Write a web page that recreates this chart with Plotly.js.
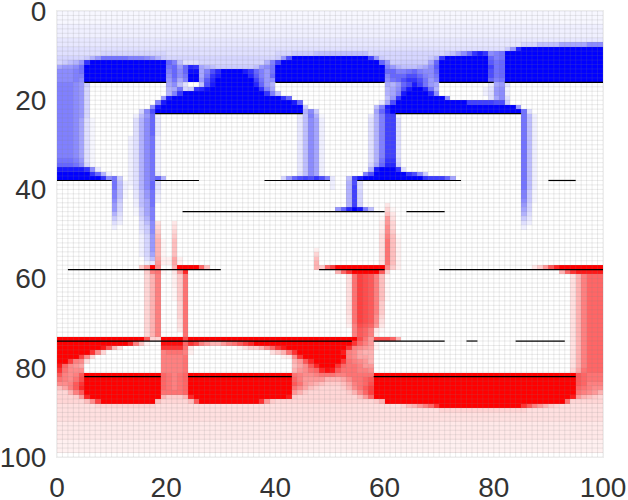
<!DOCTYPE html>
<html>
<head>
<meta charset="utf-8">
<script src="https://cdn.plot.ly/plotly-3.0.1.min.js"></script>
<style>html,body{margin:0;padding:0;background:#fff}</style>
</head>
<body>
<div id="plot" style="width:628px;height:500px"></div>
<script>
const tickValues = [0, 20, 40, 60, 80, 100];

// strength of each level letter: lower case is blue, upper case is red
const levels = [0.03, 0.06, 0.09, 0.12, 0.16, 0.2, 0.25, 0.3, 0.35, 0.4, 0.45, 0.5, 0.55, 0.6, 0.65, 0.7, 0.75, 0.8, 0.85, 0.9, 0.95, 1];

// one string per row, runs of "first-last level", the rest is zero
const rows = [
"0-99a",
"0-99a",
"0-99a",
"0-99b",
"0-99b",
"0-99b",
"0-99c",
"0-84c 85-87e 88-91g 92-96i 97-99k",
"0-81d 82f 83j 84s 85-99v",
"0-7d 8-19e 20-39d 40-42e 43-46f 47-56g 57-70e 71f 72g 73i 74k 75n 76r 77t 78r 79k 80l 81m 82-99v",
"0-4e 5f 6h 7j 8-12m 13-15l 16k 17j 18h 19f 20-39e 40f 41j 42p 43-56v 57q 58j 59f 60-67e 68f 69h 70r 71-78v 79n 80l 81m 82-99v",
"0e 1f 2g 3h 4j 5r 6-19v 20n 21l 22g 23-25d 26-37e 38h 39l 40q 41-58v 59n 60j 61-67f 68i 69n 70-78v 79o 80m 81n 82-99v",
"0i 1-2j 3k 4m 5-19v 20m 21n 22j 23n 24s 25r 26i 27h 28g 29-35f 36g 37j 38k 39m 40-59v 60l 61j 62h 63-65g 66h 67i 68k 69o 70-78v 79q 80m 81n 82-99v",
"0-2k 3l 4m 5-19v 20l 21n 22k 23n 24-25u 26i 27l 28p 29s 30-33v 34t 35r 36n 37l 38j 39m 40-59v 60-61n 62-63l 64m 65n 66l 67-68k 69n 70-78v 79p 80m 81n 82-99v",
"0-2k 3l 4l 5-19v 20k 21n 22k 23m 24-25v 26i 27m 28r 29t 30-34v 35s 36o 37l 38j 39n 40-59v 60l 61-63n 64-65p 66n 67l 68k 69m 70-78v 79p 80m 81n 82-99v",
"0-2k 3l 4k 5-19v 20j 21m 22i 23l 24-25v 26j 27o 28s 29-35v 36q 37m 38j 39k 40-59v 60k 61m 62n 63p 64-65r 66p 67m 68j 69l 70-78v 79n 80l 81m 82-99v",
"0-2l 3k 4j 5f 20i 21k 22g 23d 26g 27p 28t 29-35v 36s 37n 38j 39h 60i 61h 62j 63n 64p 65t 66q 67m 68j 69i 79c 80i 81j 82d",
"0-2l 3k 4j 5e 20h 21i 22m 23e 24f 25r 26s 27u 28-36v 37r 38l 39i 60h 61i 62k 63p 64t 65-66v 67s 68m 69h 78b 79d 80j 81k 82b",
"0-2l 3k 4j 5e 20h 21l 22r 23-37v 38r 39l 40g 60h 61i 62l 63t 64-67v 68s 69k 78b 79d 80j 81k 82b",
"0-2l 3k 4j 5e 19j 20t 21-40v 41r 42n 60g 61j 62r 63-70v 71k 79d 80i 81k 82d",
"0-2l 3k 4j 5e 18l 19t 20-42v 43t 44n 59c 60i 61p 62-74v 75-79q 80-81p 82f",
"0-2l 3k 4j 5e 17k 18t 19-44v 45f 58g 59l 60t 61-83v 84j",
"0-2l 3k 4j 5e 15e 16k 17p 18-44v 45h 46k 47f 58i 59n 60s 61-84v 85m 86d",
"0-2l 3k 4j 5e 14b 15g 16j 17n 18b 44c 45g 46l 47h 48a 57c 58h 59l 60-61q 62b 85m 86g 87b",
"0-2l 3k 4i 5d 6a 14d 15h 16k 17n 18c 44c 45g 46k 47i 48b 57d 58h 59l 60-61q 62d 85m 86g 87b",
"0-2l 3k 4i 5d 6a 14d 15h 16k 17n 18c 44c 45g 46k 47i 48b 57d 58h 59l 60-61q 62d 85m 86g 87b",
"0-2l 3k 4i 5d 6a 14d 15h 16k 17n 18c 44c 45g 46k 47i 48b 57d 58h 59l 60-61q 62d 85m 86g 87b",
"0-2l 3k 4i 5d 6a 14d 15h 16k 17n 18c 44c 45g 46k 47i 48b 57d 58h 59l 60-61q 62d 85m 86g 87b",
"0-2l 3k 4i 5d 6a 13b 14d 15h 16k 17m 18b 44c 45g 46k 47i 48b 57d 58h 59l 60-61q 62d 85m 86g 87b",
"0-2l 3k 4i 5d 6a 13b 14d 15h 16k 17m 18b 44c 45g 46k 47i 48b 57d 58h 59l 60-61q 62d 85m 86g 87b",
"0-2l 3k 4i 5d 6a 13b 14d 15h 16k 17m 18b 44c 45g 46k 47i 48b 57d 58h 59l 60-61q 62d 85m 86g 87b",
"0-2l 3k 4i 5d 6a 13b 14d 15h 16k 17m 18b 44c 45g 46k 47i 48b 57d 58h 59l 60-61q 62d 85m 86g 87b",
"0-2l 3k 4i 5d 6a 13b 14d 15h 16k 17m 18b 44c 45g 46k 47i 48b 57d 58h 59l 60-61q 62d 85m 86g 87b",
"0-2m 3l 4j 5d 6a 13b 14d 15h 16k 17m 18b 44c 45g 46k 47i 48b 57d 58h 59m 60-61r 62e 85m 86g 87b",
"0-2n 3m 4k 5e 6a 13b 14d 15h 16k 17m 18b 44c 45g 46k 47i 48b 57e 58i 59n 60-61s 62f 85m 86g 87b",
"0-4t 5r 6k 7c 13b 14d 15h 16k 17m 18b 44c 45g 46k 47i 48b 57h 58t 59-61v 62r 63d 85m 86g 87b",
"0-5v 6r 7n 8h 9b 13b 14d 15h 16k 17m 18c 44d 45g 46k 47i 48b 56l 57p 58-63v 64r 65p 66k 67f 85m 86g 87b",
"0-7v 8r 9k 10m 11f 13b 14d 15h 16k 17m 18n 19h 41e 42j 43n 44p 45q 46p 47r 48p 49l 50c 53g 54q 55t 56-66v 67r 68-70q 71n 72i 85m 86g 87b",
"10m 11g 12b 13b 14d 15h 16k 17n 18d 50b 53h 54p 55d 85m 86g 87b",
"10m 11g 12b 13a 14d 15h 16k 17n 18d 50b 53h 54q 55d 85m 86g 87b",
"10l 11g 12a 14c 15g 16j 17m 18c 53h 54q 55e 85l 86f 87a",
"10l 11g 12a 14c 15g 16j 17m 18b 53h 54q 55e 85l 86f 87a",
"10k 11f 14b 15g 16i 17m 18b 53h 54q 55e 85k 86f 87a",
"10j 11e 14b 15g 16i 17m 53h 54q 55e 60C 85j 86e",
"10j 11e 14a 15f 16i 17l 51j 52n 53s 54v 55t 56l 57g 60E 61A 85i 86e",
"10h 11d 14a 15f 16i 17l 60G 61C 85h 86d",
"10f 11c 15e 16h 17l 59A 60J 61D 85f 86c",
"10d 11b 15d 16g 17k 18D 21C 59B 60J 61E 85d 86b",
"10b 15d 16f 17k 18E 21D 59B 60K 61E 85b",
"15c 16f 17k 18F 21E 59C 60K 61F",
"15b 16e 17j 18G 21F 59D 60L 61G 62A",
"15b 16e 17j 18H 19A 21G 59D 60M 61G 62B",
"15b 16e 17j 18H 19A 21G 59D 60M 61G 62B",
"15b 16e 17j 18H 19A 21G 47B 59D 60M 61G 62B",
"15b 16e 17i 18H 19A 21G 47E 59D 60M 61G 62B",
"16d 17g 18I 19B 20B 21I 22B 47G 59D 60M 61G 62B",
"16b 17c 18J 19B 20B 21I 22B 47H 59D 60M 61G 62B",
"15F 16J 17V 18K 21H 22-25V 26N 27G 47H 48F 49N 50Q 51-59V 60K 61F 62B 87C 88F 89J 90O 91S 92-99V",
"16F 17L 18M 19A 21C 22J 23S 51H 52N 53R 54-58V 59O 60E 92H 93N 94R 95-99T",
"16E 17H 18L 21B 22F 23M 53D 54M 55Q 56P 57O 58L 59G 60A 94D 95H 96L 97-99N",
"16E 17H 18L 21B 22F 23M 53D 54M 55Q 56P 57O 58L 59G 60A 94D 95H 96L 97-99N",
"16E 17H 18L 21B 22F 23M 53D 54M 55Q 56P 57O 58L 59G 60A 94D 95H 96L 97-99N",
"16E 17H 18L 21A 22F 23M 53D 54M 55Q 56P 57O 58L 59G 60A 94D 95H 96L 97-99N",
"16E 17H 18L 21A 22F 23M 53D 54M 55Q 56P 57O 58L 59G 60A 94D 95H 96L 97-99N",
"16E 17H 18L 21A 22F 23M 53D 54M 55Q 56P 57O 58L 59G 60A 94D 95H 96L 97-99N",
"16E 17H 18L 22E 23M 53D 54M 55Q 56P 57O 58L 59F 94D 95H 96L 97-99N",
"16E 17H 18L 22E 23M 53D 54M 55Q 56P 57O 58L 59F 94D 95H 96L 97-99N",
"16E 17H 18L 22E 23M 53D 54M 55Q 56P 57O 58L 59F 94D 95H 96L 97-99N",
"16E 17H 18L 22E 23M 53C 54M 55Q 56P 57O 58K 59E 94D 95H 96L 97-99N",
"16E 17H 18L 22D 23M 53C 54M 55Q 56P 57O 58K 59D 94D 95H 96L 97-99N",
"16E 17H 18L 22D 23M 53B 54L 55P 56O 57N 58J 59C 94D 95H 96L 97-99N",
"16E 17H 18L 22C 23M 54L 55O 56N 57L 58C 59A 94D 95H 96L 97-99N",
"16E 17H 18L 23M 54L 55O 56N 57L 58B 94D 95H 96L 97-99N",
"0-15V 16O 17-18E 19-22V 23P 24-54V 55P 56M 57J 58-60P 61N 62H 94D 95H 96L 97-99N",
"0-12V 13S 14L 15G 16B 19-22U 23N 24R 25P 26L 27J 28-29H 30J 31L 32M 33O 34Q 35S 36-53V 54R 55N 56L 57J 58B 94D 95H 96L 97-99N",
"0-7V 8T 9O 10H 11D 19-22R 23M 24C 33B 34D 35F 36F 37H 38K 39N 40R 41T 42-52V 53R 54L 55K 56J 57I 58B 94D 95H 96L 97-99N",
"0-5V 6R 7K 8E 19L 20-22M 23L 24B 39D 40F 41H 42M 43R 44-51V 52T 53L 54K 55I 56-57H 94D 95H 96L 97-99N",
"0-3V 4Q 5K 6E 19-22L 23M 41B 42C 43K 44R 45-52V 53L 54K 55-56I 57H 94D 95H 96L 97-99N",
"0-1V 2Q 3L 4K 5D 19-22L 23M 43H 44J 45O 46S 47-51V 52R 53M 54L 55K 56J 57H 94D 95H 96L 97-99N",
"0T 1N 2K 3J 4I 19-22L 23M 43G 44I 45K 46O 47S 48-50V 51R 52N 53-54M 55L 56-57J 94D 95H 96L 97-99N",
"0R 1M 2-4K 19-22L 23M 43H 44J 45K 46M 47N 48S 49U 50T 51O 52-54M 55-56L 57K 94E 95I 96M 97-99N",
"0O 1L 2K 3L 4O 5-18V 19N 20M 21L 22M 23N 24-42V 43M 44L 45-46K 47L 48-50M 51-52L 53-57M 58-94V 95O 96N 97-99M",
"0M 1L 2K 3M 4P 5-18V 19N 20M 21L 22M 23N 24-42V 43N 44L 45-48J 49-51H 52I 53K 54-55M 56N 57O 58-94V 95O 96N 97-99M",
"0-1K 2L 3O 4R 5-18V 19N 20M 21L 22M 23N 24-42V 43O 44M 45J 46I 47H 48G 49-51F 52G 53I 54L 55M 56N 57P 58-94V 95O 96N 97-99L",
"0G 1I 2L 3O 4S 5-18V 19N 20M 21L 22M 23N 24-42V 43M 44K 45I 46G 47F 48-51E 52F 53H 54K 55M 56O 57Q 58-94V 95N 96M 97L 98-99K",
"0-1E 2H 3L 4O 5-18V 19-22M 23N 24-42V 43J 44H 45F 46-52E 53F 54H 55K 56N 57Q 58-94V 95M 96L 97K 98J 99H",
"0-2E 3F 4J 5S 6-18V 19H 20-22F 23H 24S 25-41V 42T 43F 44-54E 55G 56J 57N 58-93V 94T 95J 96H 97G 98F 99E",
"0-4E 5G 6K 7Q 8-17V 18G 19-23E 24G 25O 26-36V 37R 38J 39F 40-57E 58F 59H 60-92V 93M 94-99E",
"0-6D 7-17E 18-62D 63E 64G 65H 66J 67L 68N 69R 70-84V 85R 86O 87L 88J 89H 90F 91E 92-99D",
"0-69D 70-85E 86-99D",
"0-99D",
"0-99D",
"0-99C",
"0-99C",
"0-99C",
"0-99C",
"0-99B",
"0-99B",
"0-99B"
];

// black wall segments: row boundary, first column, last column
const wallRow = [16, 16, 16, 16, 23, 23, 38, 38, 38, 38, 38, 45, 45, 58, 58, 58, 74, 74, 74, 74, 82, 82, 82];
const wallFrom = [5, 40, 70, 82, 18, 62, 0, 18, 38, 55, 90, 23, 64, 2, 48, 70, 0, 58, 75, 84, 5, 24, 58];
const wallTo = [20, 60, 80, 100, 45, 85, 10, 26, 50, 74, 95, 60, 71, 30, 60, 100, 54, 71, 77, 93, 19, 43, 95];

function parseRow(row) {
	const cells = new Array(100).fill(0);
	for (const run of row.matchAll(/(\d+)(?:-(\d+))?([a-vA-V])/g)) {
		const first = parseInt(run[1]);
		const last = run[2] ? parseInt(run[2]) : first;
		const letter = run[3];
		const lower = letter.toLowerCase();
		const value = levels[lower.charCodeAt(0) - 97] * (letter === lower ? -1 : 1);
		for (let i = first; i <= last; i++) {
			cells[i] = value;
		}
	}
	return cells;
}

// thin see-through lines between the cells
const gridX = [];
const gridY = [];
for (let i = 0; i <= 100; i++) {
	gridX.push(i, i, null, 0, 100, null);
	gridY.push(0, 100, null, i, i, null);
}

const wallX = [];
const wallY = [];
wallRow.forEach((row, i) => {
	wallX.push(wallFrom[i], wallTo[i], null);
	wallY.push(row, row, null);
});

const traces = [
	{
		type: "heatmap",
		z: rows.map(parseRow),
		x0: 0.5,
		dx: 1,
		y0: 0.5,
		dy: 1,
		zmin: -1,
		zmax: 1,
		colorscale: [[0, "#0000ff"], [0.5, "#ffffff"], [1, "#ff0000"]],
		showscale: false,
		hoverinfo: "skip",
	},
	{
		type: "scatter",
		mode: "lines",
		x: gridX,
		y: gridY,
		line: { color: "rgba(130,130,130,0.16)", width: 1 },
		hoverinfo: "skip",
		showlegend: false,
	},
	{
		type: "scatter",
		mode: "lines",
		x: wallX,
		y: wallY,
		line: { color: "#000000", width: 1.2 },
		hoverinfo: "skip",
		showlegend: false,
	},
];

const axisStyle = {
	tickmode: "array",
	tickvals: tickValues,
	ticks: "",
	showgrid: false,
	zeroline: false,
	showline: true,
	mirror: true,
	linecolor: "#ececec",
	linewidth: 1,
	ticklabeloverflow: "allow",
	tickfont: { family: "Liberation Sans, Arial, sans-serif", size: 28, color: "#333333" },
};

const layout = {
	width: 628,
	height: 500,
	margin: { l: 57.3, r: 25, t: 10.5, b: 43, autoexpand: false },
	paper_bgcolor: "#ffffff",
	plot_bgcolor: "#ffffff",
	showlegend: false,
	xaxis: { ...axisStyle, range: [0, 100], ticklabelstandoff: 5 },
	yaxis: { ...axisStyle, range: [100, 0], ticklabelstandoff: 4 },
};

Plotly.newPlot("plot", traces, layout, { displayModeBar: false, responsive: false });
</script>
</body>
</html>
